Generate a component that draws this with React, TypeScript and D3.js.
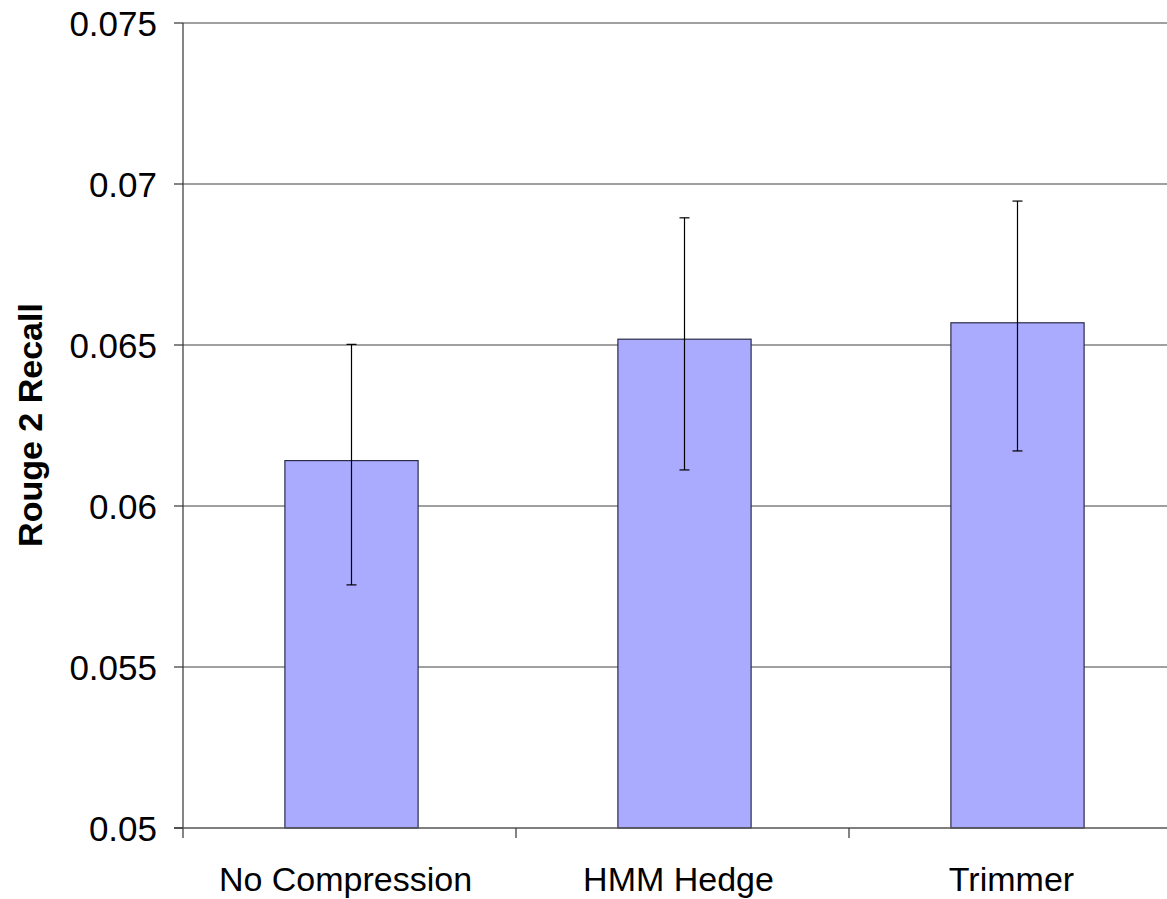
import React from "react";
import * as d3 from "d3";

const categories = ["No Compression", "HMM Hedge", "Trimmer"];
const values = [0.06141, 0.06518, 0.06569];
const errHigh = [0.06502, 0.06895, 0.06947];
const errLow = [0.05755, 0.06112, 0.06171];
const yTicks = [0.05, 0.055, 0.06, 0.065, 0.07, 0.075];
const yTickLabels = ["0.05", "0.055", "0.06", "0.065", "0.07", "0.075"];

const W = 1167;
const H = 899;
const left = 183;
const top = 23;
const bottom = 828;
const bandW = 333;

export default function App() {
  const x = d3
    .scaleBand<string>()
    .domain(categories)
    .range([left, left + bandW * categories.length])
    .paddingInner(0)
    .paddingOuter(0);
  const y = d3.scaleLinear().domain([0.05, 0.075]).range([bottom, top]);
  const barW = x.bandwidth() / 2.5;
  const font = "Arial, 'Liberation Sans', sans-serif";

  return (
    <svg
      width={W}
      height={H}
      style={{ position: "absolute", left: 0, top: 0, background: "#fff" }}
    >
      {/* gridlines */}
      {yTicks.slice(1).map((t) => (
        <line
          key={"g" + t}
          x1={left}
          x2={W}
          y1={y(t)}
          y2={y(t)}
          stroke="#808080"
          strokeWidth={1.3}
        />
      ))}
      {/* bars */}
      {categories.map((c, i) => {
        const cx = (x(c) as number) + x.bandwidth() / 2 + 2;
        return (
          <g key={c}>
            <rect
              x={cx - barW / 2}
              y={y(values[i])}
              width={barW}
              height={bottom - y(values[i])}
              fill="#AAAAFF"
              stroke="#2b2b4a"
              strokeWidth={1.2}
            />
            <line x1={cx} x2={cx} y1={y(errHigh[i])} y2={y(errLow[i])} stroke="#000" strokeWidth={1.2} />
            <line x1={cx - 5} x2={cx + 5} y1={y(errHigh[i])} y2={y(errHigh[i])} stroke="#000" strokeWidth={1.2} />
            <line x1={cx - 5} x2={cx + 5} y1={y(errLow[i])} y2={y(errLow[i])} stroke="#000" strokeWidth={1.2} />
          </g>
        );
      })}
      {/* axes */}
      <line x1={left} x2={left} y1={top} y2={bottom + 10} stroke="#333" strokeWidth={1.2} />
      <line x1={left - 9} x2={W} y1={bottom} y2={bottom} stroke="#555" strokeWidth={1.5} />
      {yTicks.map((t, i) => (
        <g key={"t" + t}>
          <line x1={left - 9} x2={left} y1={y(t)} y2={y(t)} stroke="#333" strokeWidth={1.2} />
          <text
            x={157}
            y={y(t)}
            dy="0.36em"
            textAnchor="end"
            fontFamily={font}
            fontSize={35}
            fill="#000"
          >
            {yTickLabels[i]}
          </text>
        </g>
      ))}
      {categories.slice(1).map((c) => (
        <line
          key={"xt" + c}
          x1={x(c) as number}
          x2={x(c) as number}
          y1={bottom}
          y2={bottom + 10}
          stroke="#333"
          strokeWidth={1.2}
        />
      ))}
      {categories.map((c) => (
        <text
          key={"xl" + c}
          x={(x(c) as number) + x.bandwidth() / 2 - 4}
          y={891}
          textAnchor="middle"
          fontFamily={font}
          fontSize={34}
          fill="#000"
        >
          {c}
        </text>
      ))}
      <text
        transform={`translate(42, 425) rotate(-90)`}
        textAnchor="middle"
        fontFamily={font}
        fontSize={34}
        fontWeight="bold"
        fill="#000"
      >
        Rouge 2 Recall
      </text>
    </svg>
  );
}
